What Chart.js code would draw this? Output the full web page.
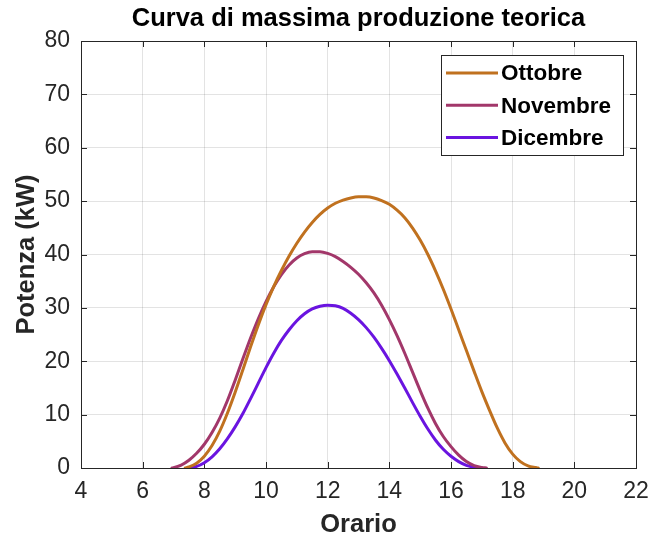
<!DOCTYPE html>
<html>
<head>
<meta charset="utf-8">
<script src="https://cdn.jsdelivr.net/npm/chart.js@4/dist/chart.umd.min.js"></script>
<style>
  html, body { margin: 0; padding: 0; background: #ffffff; }
  #wrap { width: 659px; height: 541px; }
</style>
</head>
<body>
<div id="wrap"><canvas id="c" width="659" height="541"></canvas></div>
<script>
// ---- data ----
const chartTitle = "Curva di massima produzione teorica";
const xTitle = "Orario";
const yTitle = "Potenza (kW)";
const seriesNames = ["Ottobre", "Novembre", "Dicembre"];

const ottobreOre = [7.38, 7.5, 7.75, 8, 8.25, 8.5, 8.75, 9, 9.25, 9.5, 9.75, 10, 10.25, 10.5, 10.75, 11, 11.25, 11.5, 11.75, 12, 12.25, 12.5, 12.75, 13, 13.25, 13.5, 13.75, 14, 14.25, 14.5, 14.75, 15, 15.25, 15.5, 15.75, 16, 16.25, 16.5, 16.75, 17, 17.25, 17.5, 17.75, 18, 18.25, 18.5, 18.75, 18.83];
const ottobreKW  = [0, 0.2, 0.9, 2.2, 4.2, 6.9, 10.3, 14.2, 18.4, 22.7, 26.8, 30.6, 34.0, 37.0, 39.7, 42.1, 44.2, 46.0, 47.5, 48.7, 49.6, 50.2, 50.6, 50.8, 50.8, 50.6, 50.1, 49.4, 48.3, 46.9, 45.0, 42.7, 40.0, 36.9, 33.5, 29.8, 25.9, 22.0, 18.1, 14.3, 10.8, 7.5, 4.7, 2.6, 1.2, 0.4, 0.08, 0];

const novembreOre = [6.95, 7, 7.25, 7.5, 7.75, 8, 8.25, 8.5, 8.75, 9, 9.25, 9.5, 9.75, 10, 10.25, 10.5, 10.75, 11, 11.25, 11.5, 11.75, 12, 12.25, 12.5, 12.75, 13, 13.25, 13.5, 13.75, 14, 14.25, 14.5, 14.75, 15, 15.25, 15.5, 15.75, 16, 16.25, 16.5, 16.75, 17, 17.15];
const novembreKW  = [0, 0.05, 0.55, 1.45, 2.75, 4.45, 6.65, 9.35, 12.65, 16.45, 20.45, 24.35, 27.95, 31.15, 33.95, 36.25, 38.05, 39.35, 40.15, 40.5, 40.5, 40.2, 39.6, 38.7, 37.6, 36.3, 34.7, 32.8, 30.5, 27.8, 24.8, 21.5, 18.0, 14.5, 11.2, 8.3, 5.9, 4.0, 2.4, 1.2, 0.45, 0.1, 0];

const dicembreOre = [7.48, 7.5, 7.75, 8, 8.25, 8.5, 8.75, 9, 9.25, 9.5, 9.75, 10, 10.25, 10.5, 10.75, 11, 11.25, 11.5, 11.75, 12, 12.25, 12.5, 12.75, 13, 13.25, 13.5, 13.75, 14, 14.25, 14.5, 14.75, 15, 15.25, 15.5, 15.75, 16, 16.25, 16.5, 16.75, 16.8];
const dicembreKW  = [0, 0.02, 0.3, 1.0, 2.1, 3.6, 5.5, 7.7, 10.2, 13.0, 15.9, 18.8, 21.5, 23.9, 25.9, 27.6, 28.9, 29.8, 30.3, 30.5, 30.4, 29.9, 29.0, 27.8, 26.3, 24.5, 22.4, 20.1, 17.6, 15.0, 12.3, 9.7, 7.3, 5.2, 3.5, 2.2, 1.2, 0.5, 0.1, 0];

const xTicks = [4, 6, 8, 10, 12, 14, 16, 18, 20, 22];
const yTicks = [0, 10, 20, 30, 40, 50, 60, 70, 80];

// ---- styles ----
const seriesColors = ["#C0711F", "#A2376A", "#6A14E0"];
const FONT = "'Liberation Sans', Arial, Helvetica, sans-serif";
const AXIS_COLOR = "#262626";

function toPoints(xs, ys) { return xs.map((x, i) => ({ x: x, y: ys[i] })); }

const boxPlugin = {
  id: 'matlabBox',
  beforeDatasetsDraw(chart) {
    const { ctx, chartArea: a, scales } = chart;
    ctx.save();
    ctx.strokeStyle = AXIS_COLOR;
    ctx.lineWidth = 1;
    ctx.beginPath();
    const tl = 6;
    xTicks.forEach(v => {
      const px = Math.round(scales.x.getPixelForValue(v)) + 0.5;
      ctx.moveTo(px, a.bottom); ctx.lineTo(px, a.bottom - tl);
      ctx.moveTo(px, a.top); ctx.lineTo(px, a.top + tl);
    });
    yTicks.forEach(v => {
      const py = Math.round(scales.y.getPixelForValue(v)) + 0.5;
      ctx.moveTo(a.left, py); ctx.lineTo(a.left + tl, py);
      ctx.moveTo(a.right, py); ctx.lineTo(a.right - tl, py);
    });
    ctx.stroke();
    ctx.strokeRect(Math.round(a.left) + 0.5, Math.round(a.top) + 0.5,
                   Math.round(a.right - a.left), Math.round(a.bottom - a.top));
    ctx.restore();
  },
  afterDraw(chart) {
    const { ctx, chartArea: a } = chart;
    const ds = chart.data.datasets;
    ctx.save();
    // title, centred over the plot area
    ctx.fillStyle = "#000000";
    ctx.font = "bold 25.5px " + FONT;
    ctx.textAlign = "center";
    ctx.textBaseline = "middle";
    ctx.fillText(chartTitle, (a.left + a.right) / 2, 19);
    // legend
    const bx = a.right - 195, by = a.top + 14, bw = 182, bh = 100;
    ctx.fillStyle = "#ffffff";
    ctx.fillRect(bx, by, bw, bh);
    ctx.strokeStyle = AXIS_COLOR;
    ctx.lineWidth = 1;
    ctx.strokeRect(Math.round(bx) + 0.5, Math.round(by) + 0.5, bw, bh);
    ctx.font = "bold 22.5px " + FONT;
    ctx.textBaseline = "middle";
    ctx.textAlign = "left";
    ds.forEach((d, i) => {
      const y = by + 18 + i * 32.3;
      ctx.strokeStyle = d.borderColor;
      ctx.lineWidth = 3;
      ctx.beginPath();
      ctx.moveTo(bx + 5, y);
      ctx.lineTo(bx + 57, y);
      ctx.stroke();
      ctx.fillStyle = "#000000";
      ctx.fillText(d.label, bx + 60, y + 1);
    });
    ctx.restore();
  }
};

new Chart(document.getElementById('c'), {
  type: 'line',
  data: {
    datasets: [
      { label: seriesNames[0], data: toPoints(ottobreOre, ottobreKW), borderColor: seriesColors[0] },
      { label: seriesNames[1], data: toPoints(novembreOre, novembreKW), borderColor: seriesColors[1] },
      { label: seriesNames[2], data: toPoints(dicembreOre, dicembreKW), borderColor: seriesColors[2] }
    ]
  },
  options: {
    responsive: false,
    animation: false,
    events: [],
    layout: { padding: { left: 0, right: 23, top: 41, bottom: 0 } },
    elements: {
      line: { borderWidth: 3, tension: 0.4, cubicInterpolationMode: 'monotone', fill: false, borderCapStyle: 'round', borderJoinStyle: 'round' },
      point: { radius: 0 }
    },
    plugins: {
      legend: { display: false },
      tooltip: { enabled: false },
      title: { display: false }
    },
    scales: {
      x: {
        type: 'linear',
        min: 4, max: 22,
        afterFit(s) { s.height = 73; },
        afterBuildTicks(s) { s.ticks = xTicks.map(v => ({ value: v })); },
        ticks: { color: AXIS_COLOR, padding: 10, font: { family: FONT, size: 23 }, maxRotation: 0, autoSkip: false },
        grid: { color: 'rgba(38,38,38,0.13)', drawTicks: false, lineWidth: 1 },
        border: { display: false },
        title: { display: true, text: xTitle, color: AXIS_COLOR, font: { family: FONT, size: 25.5, weight: 'bold' }, padding: { top: 0, bottom: 1 } }
      },
      y: {
        type: 'linear',
        min: 0, max: 80,
        afterFit(s) { s.width = 81; },
        afterBuildTicks(s) { s.ticks = yTicks.map(v => ({ value: v })); },
        ticks: { color: AXIS_COLOR, padding: 11, font: { family: FONT, size: 23 }, autoSkip: false },
        grid: { color: 'rgba(38,38,38,0.13)', drawTicks: false, lineWidth: 1 },
        border: { display: false },
        title: { display: true, text: yTitle, color: AXIS_COLOR, font: { family: FONT, size: 25.5, weight: 'bold' }, padding: { top: 11.7, bottom: 0 } }
      }
    }
  },
  plugins: [boxPlugin]
});
</script>
</body>
</html>
